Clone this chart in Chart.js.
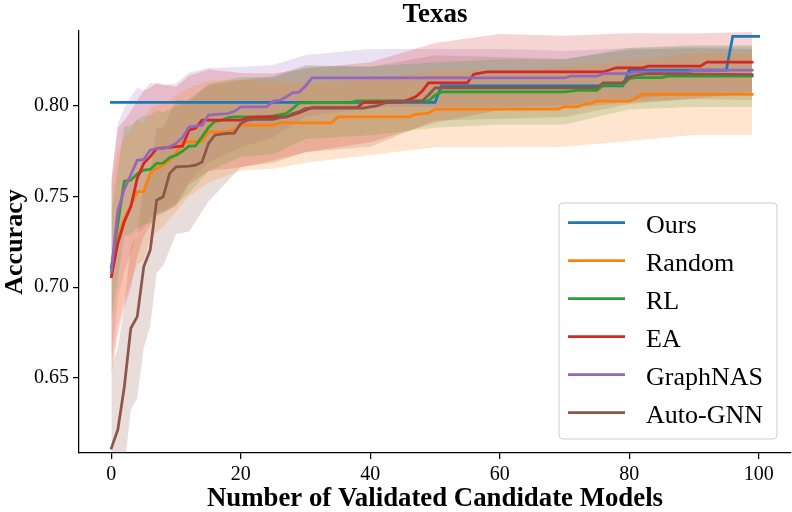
<!DOCTYPE html>
<html>
<head>
<meta charset="utf-8">
<script src="https://cdn.jsdelivr.net/npm/chart.js@4.4.1/dist/chart.umd.min.js"></script>
<style>
  html, body { margin: 0; padding: 0; background: #fff; }
  #wrap { width: 792px; height: 512px; }
</style>
</head>
<body>
<div id="wrap"><canvas id="chart" width="792" height="512"></canvas></div>
<script>
// Texas - accuracy vs number of validated candidate models
const seriesNames = ['Ours', 'Random', 'RL', 'EA', 'GraphNAS', 'Auto-GNN'];
const seriesColors = ['#1f77b4', '#ff7f0e', '#2ca02c', '#d62728', '#9467bd', '#8c564b'];
const bandColors = ['rgba(31,119,180,0.2)', 'rgba(255,127,14,0.2)', 'rgba(44,160,44,0.2)',
                    'rgba(214,39,40,0.2)', 'rgba(148,103,189,0.2)', 'rgba(140,86,75,0.2)'];

const xTicks = [0, 20, 40, 60, 80, 100];
const yTicks = [0.65, 0.70, 0.75, 0.80];

// mean curves (x = number of validated models)
const oursX = [0, 50, 51, 79, 80, 95, 96, 100];
const oursY = [0.8019, 0.8019, 0.8110, 0.8110, 0.8197, 0.8197, 0.8384, 0.8384];

const randomX = [0, 1, 2, 3, 4, 5, 6, 7, 8, 9, 10, 11, 13, 14, 15, 18, 19, 20, 25, 26, 34, 35, 46, 47, 49, 50, 69, 70, 72, 73, 74, 75, 80, 81, 82, 99];
const randomY = [0.706, 0.727, 0.738, 0.745, 0.7527, 0.7527, 0.7628, 0.7655, 0.7673, 0.770, 0.7738, 0.7802, 0.7802, 0.7805, 0.7857, 0.7857, 0.7870, 0.7894,
                 0.7894, 0.7906, 0.7906, 0.7939, 0.7939, 0.7953, 0.7960, 0.7982, 0.7982, 0.7995, 0.7995, 0.8009, 0.8012, 0.8026, 0.8026, 0.8041, 0.8064, 0.8064];

const rlX = [0, 1, 2, 3, 4, 5, 6, 7, 8, 9, 10, 11, 12, 13, 14, 15, 16, 17, 18, 19, 24, 25, 27, 28, 29, 37, 38, 49, 50, 51, 70, 72, 75, 76, 79, 80, 81, 85, 86, 99];
const rlY = [0.711, 0.735, 0.7585, 0.759, 0.7625, 0.7646, 0.765, 0.7683, 0.7685, 0.7715, 0.7728, 0.7750, 0.7778, 0.778, 0.7829, 0.7880, 0.7915, 0.7921, 0.7935, 0.7939,
             0.7939, 0.7945, 0.7958, 0.7985, 0.8017, 0.8019, 0.8028, 0.8028, 0.8059, 0.8077, 0.8077, 0.8085, 0.8085, 0.8114, 0.8114, 0.8150, 0.8156, 0.8156, 0.8164, 0.8164];

const eaX = [0, 1, 2, 3, 4, 5, 6, 7, 10, 11, 12, 13, 14, 20, 21, 23, 27, 29, 31, 38, 39, 45, 47, 48, 49, 55, 56, 58, 76, 78, 82, 83, 91, 92, 99];
const eaY = [0.7058, 0.7242, 0.7361, 0.7444, 0.760, 0.7683, 0.772, 0.7765, 0.7775, 0.7778, 0.7866, 0.7876, 0.7921, 0.7921, 0.7934, 0.7939, 0.7939, 0.7962,
             0.7991, 0.7991, 0.8020, 0.8022, 0.805, 0.808, 0.8127, 0.8127, 0.8175, 0.8187, 0.8187, 0.821, 0.821, 0.8219, 0.8219, 0.8242, 0.8242];

const gnasX = [0, 1, 2, 3, 4, 5, 6, 7, 8, 9, 10, 11, 12, 14, 15, 18, 19, 20, 24, 25, 26, 27, 28, 29, 30, 31, 70, 71, 75, 76, 80, 81, 89, 90, 99];
const gnasY = [0.7086, 0.742, 0.754, 0.762, 0.770, 0.7705, 0.7756, 0.7765, 0.7765, 0.7775, 0.7793, 0.7826, 0.7884, 0.7894, 0.7949, 0.7958, 0.797, 0.7994,
               0.7994, 0.8026, 0.803, 0.805, 0.8072, 0.8075, 0.811, 0.8154, 0.8154, 0.8164, 0.8164, 0.8178, 0.8178, 0.8187, 0.8187, 0.8197, 0.8197];

const agnnX = [0, 1, 2, 3, 4, 5, 6, 7, 8, 9, 10, 12, 13, 14, 15, 16, 17, 18, 19, 20, 21, 22, 25, 26, 27, 28, 29, 30, 31, 39, 40, 41, 42, 43, 48, 49, 50, 75, 76, 79, 80, 81, 83, 99];
const agnnY = [0.6113, 0.6214, 0.645, 0.6774, 0.6838, 0.7113, 0.7205, 0.748, 0.7499, 0.7628, 0.7664, 0.7668, 0.7673, 0.769, 0.7793, 0.7839, 0.7844, 0.7848, 0.785,
               0.7903, 0.7921, 0.7925, 0.7925, 0.7935, 0.7939, 0.7958, 0.7967, 0.7986, 0.7988, 0.7988, 0.7995, 0.8, 0.8013, 0.8026, 0.8026, 0.806, 0.8099, 0.8099,
               0.8127, 0.8127, 0.816, 0.8169, 0.8178, 0.8173];

// shaded spread (lower / upper edge) read at these x positions
const bandX = [0, 1, 2, 3, 4, 5, 6, 7, 8, 10, 12, 15, 20, 25, 30, 40, 50, 60, 70, 80, 90, 99];
const randomLo = [0.656, 0.679, 0.693, 0.703, 0.7127, 0.7147, 0.7268, 0.7305, 0.7333, 0.7418, 0.7502, 0.7577, 0.7644, 0.7654, 0.7686, 0.7729, 0.7772, 0.7772, 0.7775, 0.7806, 0.7839, 0.7839];
const randomHi = [0.756, 0.775, 0.783, 0.787, 0.7927, 0.7907, 0.7988, 0.8005, 0.8013, 0.8058, 0.8102, 0.8137, 0.8144, 0.8134, 0.8126, 0.8149, 0.8192, 0.8192, 0.8215, 0.8246, 0.8289, 0.8289];
const rlLo = [0.681, 0.705, 0.7285, 0.729, 0.7325, 0.7346, 0.735, 0.7393, 0.7405, 0.7458, 0.7518, 0.764, 0.7719, 0.7735, 0.7817, 0.7838, 0.7879, 0.7897, 0.7897, 0.798, 0.7994, 0.7994];
const rlHi = [0.741, 0.765, 0.7885, 0.789, 0.7925, 0.7946, 0.795, 0.7973, 0.7965, 0.7998, 0.8038, 0.812, 0.8159, 0.8155, 0.8217, 0.8218, 0.8239, 0.8257, 0.8257, 0.832, 0.8334, 0.8334];
const eaLo = [0.6518, 0.6742, 0.6891, 0.6994, 0.717, 0.7283, 0.734, 0.7405, 0.7418, 0.7445, 0.7566, 0.7641, 0.7661, 0.7699, 0.7745, 0.78, 0.7907, 0.7977, 0.7987, 0.802, 0.8039, 0.8077];
const eaHi = [0.7598, 0.788, 0.792, 0.797, 0.803, 0.8083, 0.81, 0.8125, 0.8118, 0.8105, 0.8166, 0.8201, 0.8181, 0.8179, 0.8205, 0.824, 0.8347, 0.8397, 0.8387, 0.84, 0.8399, 0.8407];
const gnasLo = [0.6586, 0.694, 0.709, 0.719, 0.73, 0.7325, 0.7386, 0.7405, 0.7415, 0.7463, 0.7584, 0.7689, 0.7774, 0.7826, 0.794, 0.7994, 0.7994, 0.7994, 0.8004, 0.8038, 0.8067, 0.8067];
const gnasHi = [0.7586, 0.79, 0.799, 0.805, 0.81, 0.8085, 0.8126, 0.8125, 0.8115, 0.8123, 0.8184, 0.8209, 0.8214, 0.8226, 0.828, 0.8314, 0.8314, 0.8314, 0.8304, 0.8318, 0.8327, 0.8327];
const agnnLo = [0.5663, 0.5764, 0.600, 0.6324, 0.6388, 0.6663, 0.6785, 0.708, 0.7119, 0.7294, 0.7308, 0.7473, 0.7663, 0.7685, 0.7746, 0.7775, 0.7919, 0.7929, 0.7939, 0.801, 0.8038, 0.8033];
const agnnHi = [0.6563, 0.6664, 0.690, 0.7224, 0.7288, 0.7563, 0.7625, 0.788, 0.7879, 0.8034, 0.8028, 0.8113, 0.8143, 0.8165, 0.8226, 0.8215, 0.8279, 0.8269, 0.8259, 0.831, 0.8318, 0.8313];

const lineXs = [oursX, randomX, rlX, eaX, gnasX, agnnX];
const lineYs = [oursY, randomY, rlY, eaY, gnasY, agnnY];
const bandLo = [null, randomLo, rlLo, eaLo, gnasLo, agnnLo];
const bandHi = [null, randomHi, rlHi, eaHi, gnasHi, agnnHi];

function toPoints(xs, ys) {
    return xs.map((x, i) => ({ x: x, y: ys[i] }));
}

Chart.defaults.font.family = '"Liberation Serif", "Times New Roman", serif';
Chart.defaults.color = '#000';

const datasets = [];
// bands first (drawn underneath every line)
seriesNames.forEach((name, i) => {
    if (!bandLo[i]) return;
    datasets.push({
        label: name + ' low', data: toPoints(bandX, bandLo[i]),
        borderWidth: 0, borderColor: 'rgba(0,0,0,0)', pointRadius: 0, fill: false, order: 20, tension: 0
    });
    datasets.push({
        label: name + ' high', data: toPoints(bandX, bandHi[i]),
        borderWidth: 0, borderColor: 'rgba(0,0,0,0)', pointRadius: 0, fill: '-1',
        backgroundColor: bandColors[i], order: 20, tension: 0
    });
});
seriesNames.forEach((name, i) => {
    datasets.push({
        label: name, data: toPoints(lineXs[i], lineYs[i]),
        borderColor: seriesColors[i], borderWidth: 2.75, borderCapStyle: 'square',
        pointRadius: 0, fill: false, tension: 0, order: 6 - i
    });
});

// matplotlib-like legend box in the lower right corner of the axes
const legendBox = {
    id: 'legendBox',
    afterDraw(chart) {
        const { ctx, chartArea } = chart;
        const w = 218, h = 236;
        const x = chartArea.right - 14 - w, y = chartArea.bottom - 14 - h;
        ctx.save();
        ctx.beginPath();
        ctx.roundRect(x, y, w, h, 4);
        ctx.fillStyle = 'rgba(255,255,255,0.8)';
        ctx.fill();
        ctx.strokeStyle = '#cccccc';
        ctx.lineWidth = 1;
        ctx.stroke();
        ctx.font = '26px "Liberation Serif"';
        ctx.textBaseline = 'alphabetic';
        seriesNames.forEach((name, i) => {
            const cy = y + 19.5 + 38 * i;
            ctx.beginPath();
            ctx.moveTo(x + 9, cy);
            ctx.lineTo(x + 66, cy);
            ctx.strokeStyle = seriesColors[i];
            ctx.lineWidth = 2.75;
            ctx.stroke();
            ctx.fillStyle = '#000';
            ctx.fillText(name, x + 87, cy + 10.5);
        });
        ctx.restore();
    }
};

new Chart(document.getElementById('chart').getContext('2d'), {
    type: 'line',
    data: { datasets: datasets },
    plugins: [legendBox],
    options: {
        responsive: false,
        animation: false,
        devicePixelRatio: 1,
        layout: { padding: { left: 0, right: 1, top: 0, bottom: 0 } },
        plugins: {
            legend: { display: false },
            tooltip: { enabled: false },
            title: {
                display: true, text: 'Texas', color: '#000', fullSize: false,
                font: { size: 27, weight: 'bold', lineHeight: '30px' },
                padding: { top: 0, bottom: 1 }
            }
        },
        scales: {
            x: {
                type: 'linear', min: -5, max: 105,
                afterBuildTicks: s => { s.ticks = xTicks.map(v => ({ value: v })); },
                afterFit: s => { s.height = 59; },
                grid: { drawOnChartArea: false, drawTicks: true, tickLength: 6, color: '#000', lineWidth: 1.25 },
                border: { display: true, color: '#000', width: 1.25 },
                ticks: { color: '#000', font: { size: 20 }, padding: 4, maxRotation: 0, callback: v => String(v) },
                title: {
                    display: true, text: 'Number of Validated Candidate Models', color: '#000',
                    font: { size: 26.8, weight: 'bold', lineHeight: '25px' }, padding: { top: 0, bottom: 0 }
                }
            },
            y: {
                type: 'linear', min: 0.6086, max: 0.8413,
                afterBuildTicks: s => { s.ticks = yTicks.map(v => ({ value: v })); },
                afterFit: s => { s.width = 79; },
                grid: { drawOnChartArea: false, drawTicks: true, tickLength: 6, color: '#000', lineWidth: 1.25 },
                border: { display: true, color: '#000', width: 1.25 },
                ticks: { color: '#000', font: { size: 20 }, padding: 4, callback: v => v.toFixed(2) },
                title: {
                    display: true, text: 'Accuracy', color: '#000',
                    font: { size: 26, weight: 'bold' }, padding: { top: 0, bottom: 0 }
                }
            }
        }
    }
});
</script>
</body>
</html>
